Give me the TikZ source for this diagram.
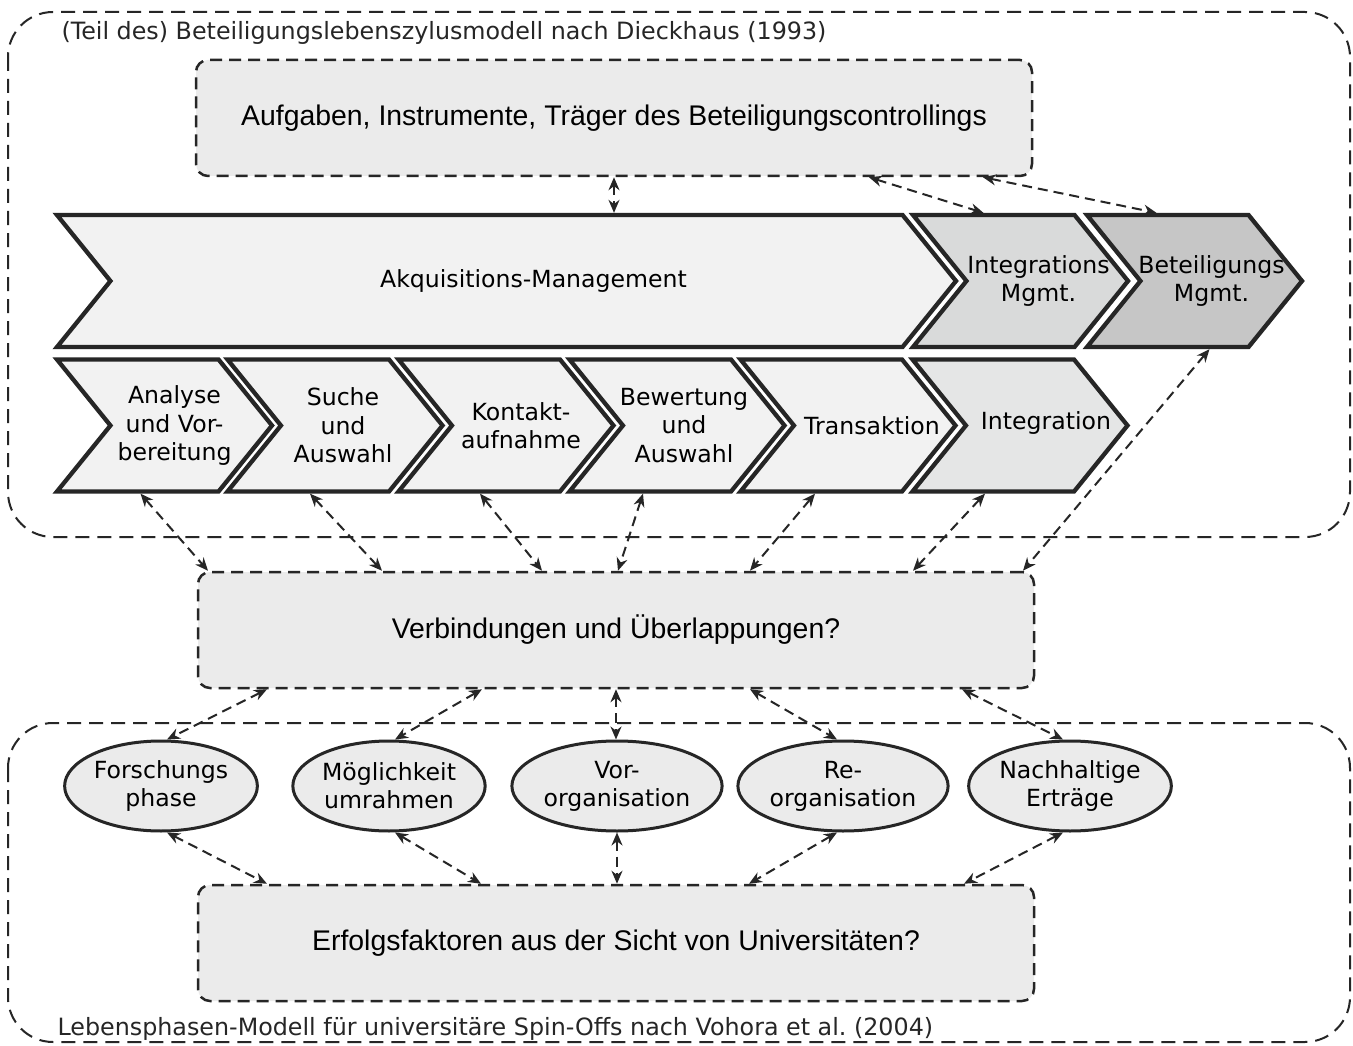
\documentclass[tikz,border=0pt]{standalone}
\usepackage{fontspec}
\setmainfont{DejaVu Sans}
\newfontfamily\boxfont{Liberation Sans}
\usetikzlibrary{shapes.symbols,shapes.geometric,arrows.meta}
\definecolor{linegray}{HTML}{262626}
\definecolor{boxgray}{HTML}{EBEBEB}
\definecolor{chevlight}{HTML}{F2F2F2}
\definecolor{chevmid}{HTML}{E5E6E6}
\definecolor{chevdark}{HTML}{D9DADA}
\definecolor{chevdarker}{HTML}{C6C6C6}

\begin{document}
\begin{tikzpicture}[x=1pt,y=-1pt,
    frame/.style={draw=linegray,line width=2pt,dash pattern=on 14pt off 8pt,rounded corners=45pt},
    qbox/.style={draw=linegray,fill=boxgray,line width=2.5pt,dash pattern=on 12pt off 7pt,
        rounded corners=12pt,minimum width=836pt,minimum height=116pt,
        font=\boxfont\fontsize{28.4}{34}\selectfont},
    phase/.style={signal,signal from=west,signal to=east,signal pointer angle=102,
        draw=linegray,line width=4.3pt,fill=chevlight,minimum height=132pt,minimum width=215pt,
        inner sep=0pt},
    every label/.style={align=center,inner sep=0pt,text=black,
        font=\fontsize{23.6}{28.5}\selectfont},
    stage/.style={ellipse,draw=linegray,fill=boxgray,line width=3pt,minimum width=190pt,
        minimum height=90pt,align=center,inner sep=1pt,font=\fontsize{23.6}{28}\selectfont},
    link/.style={draw=linegray,line width=2pt,dash pattern=on 10pt off 6pt,
        {Stealth[length=13pt,width=11pt]}-{Stealth[length=13pt,width=11pt]}},
    lbl/.style={anchor=west,text=linegray,font=\fontsize{23.8}{28}\selectfont}
  ]
  \fill[white] (0,0) rectangle (1353,1046);
  \useasboundingbox (0,0) rectangle (1353,1046);

  % the two model frames
  \draw[frame] (8,12) rectangle (1350,537);
  \draw[frame] (8,723) rectangle (1350,1042);
  \node[lbl] (dieck) at (58,33) {(Teil des) Beteiligungslebenszylusmodell nach Dieckhaus (1993)};
  \node[lbl] (vohora) at (54,1029) {Lebensphasen-Modell für universitäre Spin-Offs nach Vohora et al.\ (2004)};

  % question boxes
  \node[qbox] (aufg) at (614,118) {Aufgaben, Instrumente, Träger des Beteiligungscontrollings};
  \node[qbox] (verb) at (616,630) {Verbindungen und Überlappungen?};
  \node[qbox] (erfo) at (616,943) {Erfolgsfaktoren aus der Sicht von Universitäten?};

  % upper chevron row
  \node[phase,minimum width=899pt,label={[xshift=27pt]center:Akquisitions-Management}]
    (akq) at (506.5,281) {};
  \node[phase,fill=chevdark,label={[xshift=18pt]center:Integrations\\Mgmt.}]
    (intm) at (1020.5,281) {};
  \node[phase,fill=chevdarker,label={[xshift=17pt]center:Beteiligungs\\Mgmt.}]
    (betm) at (1194.5,281) {};

  % lower chevron row
  \node[phase,label={[xshift=10pt]center:Analyse\\und Vor-\\bereitung}] (ana) at (164.5,425.5) {};
  \node[phase,label={[xshift=8pt]center:Suche\\und\\Auswahl}] (such) at (335,425.5) {};
  \node[phase,label={[xshift=15pt]center:Kontakt-\\aufnahme}] (kont) at (506,425.5) {};
  \node[phase,label={[xshift=7pt]center:Bewertung\\und\\Auswahl}] (bew) at (677,425.5) {};
  \node[phase,label={[xshift=24pt]center:Transaktion}] (trans) at (848,425.5) {};
  \node[phase,fill=chevmid,label={[xshift=26pt,yshift=3pt]center:Integration}] (integ) at (1020,425.5) {};

  % spin-off phases
  \node[stage] (fors) at (161,786) {Forschungs\\phase};
  \node[stage] (moeg) at (389,786) {Möglichkeit\\umrahmen};
  \node[stage] (vorg) at (617,786) {Vor-\\organisation};
  \node[stage] (reorg) at (843,786) {Re-\\organisation};
  \node[stage] (nach) at (1070,786) {Nachhaltige\\Erträge};

  % links to the upper box
  \draw[link] (aufg.south) -- (aufg.south |- akq.north);
  \draw[link] ([xshift=255pt]aufg.south) -- ([xshift=-37pt]intm.north);
  \draw[link] ([xshift=369pt]aufg.south) -- ([xshift=-38pt]betm.north);

  % links from the chevrons down
  \draw[link] ([xshift=-24pt]ana.south) -- ([xshift=-408pt]verb.north);
  \draw[link] ([xshift=-25pt]such.south) -- ([xshift=-234pt]verb.north);
  \draw[link] ([xshift=-26pt]kont.south) -- ([xshift=-74pt]verb.north);
  \draw[link] ([xshift=-34pt]bew.south) -- ([xshift=2pt]verb.north);
  \draw[link] ([xshift=-33pt]trans.south) -- ([xshift=134pt]verb.north);
  \draw[link] ([xshift=-35pt]integ.south) -- ([xshift=297pt]verb.north);
  \draw[link] ([xshift=15pt]betm.south) -- ([xshift=407pt]verb.north);

  % links between the phases and the boxes
  \draw[link] ([xshift=-349pt]verb.south) -- ([xshift=6pt]fors.north);
  \draw[link] ([xshift=-134pt]verb.south) -- ([xshift=6pt]moeg.north);
  \draw[link] (verb.south) -- (verb.south |- vorg.north);
  \draw[link] ([xshift=134pt]verb.south) -- ([xshift=-6pt]reorg.north);
  \draw[link] ([xshift=346pt]verb.south) -- ([xshift=-7pt]nach.north);
  \draw[link] ([xshift=6pt]fors.south) -- ([xshift=-349pt]erfo.north);
  \draw[link] ([xshift=6pt]moeg.south) -- ([xshift=-135pt]erfo.north);
  \draw[link] (vorg.south) -- (vorg.south |- erfo.north);
  \draw[link] ([xshift=-6pt]reorg.south) -- ([xshift=133pt]erfo.north);
  \draw[link] ([xshift=-7pt]nach.south) -- ([xshift=348pt]erfo.north);
\end{tikzpicture}
\end{document}
